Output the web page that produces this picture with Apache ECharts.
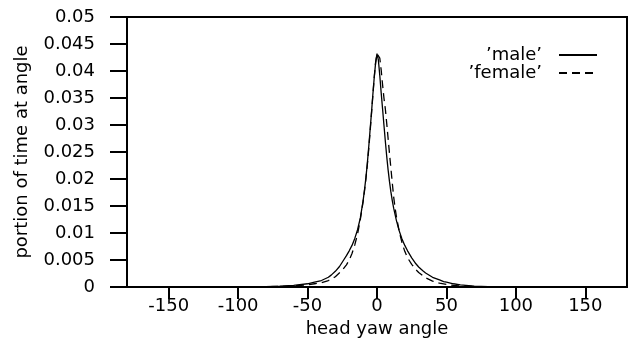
<!DOCTYPE html>
<html>
<head>
<meta charset="utf-8">
<script src="https://cdn.jsdelivr.net/npm/echarts@6/dist/echarts.min.js"></script>
<style>
html,body{margin:0;padding:0;background:#fff;}
#c{width:633px;height:343px;}
</style>
</head>
<body>
<div id="c"></div>
<script>
// x tick positions
var xTicks = [-150, -100, -50, 0, 50, 100, 150];

// 'male' (solid)
var maleX = [-180, -90, -80, -70, -60, -50, -45, -40, -35, -33, -30, -27, -24, -22, -20, -18, -16, -14, -12, -10, -9, -8, -7, -6, -5, -4, -3, -2, -1, 0, 1, 2, 3, 4, 5, 6, 7, 8, 9, 10, 11, 12, 14, 16, 18, 20, 22, 25, 28, 30, 33, 35, 40, 45, 48, 50, 55, 60, 70, 80, 90, 180];
var maleY = [0, 0, 0.00005, 0.00015, 0.0003, 0.0006, 0.0009, 0.0012, 0.0018, 0.0022, 0.0029, 0.0038, 0.0050, 0.0058, 0.0067, 0.0077, 0.0090, 0.0106, 0.0128, 0.0160, 0.0180, 0.0202, 0.0228, 0.0258, 0.0290, 0.0322, 0.0356, 0.0388, 0.0415, 0.0432, 0.0420, 0.0392, 0.0360, 0.0330, 0.0300, 0.0270, 0.0242, 0.0217, 0.0195, 0.0176, 0.0160, 0.0146, 0.0123, 0.0104, 0.0089, 0.0077, 0.0067, 0.0054, 0.0043, 0.0037, 0.0030, 0.0026, 0.0018, 0.0013, 0.0010, 0.0009, 0.0006, 0.0004, 0.00015, 0.00005, 0, 0];

// 'female' (dashed)
var femaleX = [-180, -90, -80, -70, -60, -50, -45, -40, -35, -30, -25, -22, -20, -18, -16, -14, -12, -10, -9, -8, -7, -6, -5, -4, -3, -2, -1, 0, 1, 2, 3, 4, 5, 6, 7, 8, 9, 10, 11, 12, 13, 14, 16, 18, 20, 22, 25, 28, 30, 35, 40, 45, 50, 55, 60, 70, 80, 90, 180];
var femaleY = [0, 0, 0.00003, 0.0001, 0.0002, 0.0004, 0.0006, 0.0008, 0.0012, 0.0019, 0.0031, 0.0041, 0.0050, 0.0062, 0.0078, 0.0098, 0.0125, 0.0158, 0.0178, 0.0200, 0.0225, 0.0254, 0.0286, 0.0320, 0.0354, 0.0388, 0.0416, 0.0432, 0.0435, 0.0424, 0.0402, 0.0375, 0.0350, 0.0330, 0.0303, 0.0275, 0.0247, 0.0220, 0.0193, 0.0167, 0.0147, 0.0130, 0.0103, 0.0082, 0.0066, 0.0054, 0.0042, 0.0032, 0.0027, 0.0017, 0.0011, 0.0007, 0.0005, 0.0003, 0.0002, 0.0001, 0.00003, 0, 0];

function pairs(xs, ys) { return xs.map(function (x, i) { return [x, ys[i]]; }); }

var FONT = 'DejaVu Sans';
var legendBase = {orient: 'vertical', align: 'right', right: 35, padding: 0,
  itemWidth: 38, itemHeight: 12, itemStyle: {opacity: 0, borderWidth: 0},
  textStyle: {fontFamily: FONT, fontSize: 18, color: '#000', padding: [0, 12, 0, 0]}};
var chart = echarts.init(document.getElementById('c'), null, {renderer: 'canvas'});
chart.setOption({
  animation: false,
  backgroundColor: '#fff',
  textStyle: {fontFamily: FONT, color: '#000'},
  grid: {left: 127, right: 6, top: 17, bottom: 56, show: true, borderColor: '#000', borderWidth: 2, backgroundColor: 'transparent'},
  legend: [
    Object.assign({}, legendBase, {data: ["’male’"], top: 46}),
    Object.assign({}, legendBase, {data: ["’female’"], top: 64})
  ],
  xAxis: {
    type: 'value', min: -180, max: 180,
    name: 'head yaw angle', nameLocation: 'middle', nameGap: 28,
    nameTextStyle: {fontFamily: FONT, fontSize: 18, color: '#000'},
    axisLine: {show: true, onZero: false, lineStyle: {color: '#000', width: 2}},
    axisTick: {show: true, inside: false, length: 12, customValues: xTicks, lineStyle: {color: '#000', width: 2}},
    axisLabel: {show: true, margin: 10, customValues: xTicks, fontFamily: FONT, fontSize: 18, color: '#000'},
    splitLine: {show: false}
  },
  yAxis: {
    type: 'value', min: 0, max: 0.05, interval: 0.005,
    name: 'portion of time at angle', nameLocation: 'middle', nameGap: 96,
    nameTextStyle: {fontFamily: FONT, fontSize: 18, color: '#000'},
    axisLine: {show: true, onZero: false, lineStyle: {color: '#000', width: 2}},
    axisTick: {show: true, inside: false, length: 17, lineStyle: {color: '#000', width: 2}},
    axisLabel: {show: true, margin: 32, fontFamily: FONT, fontSize: 18, color: '#000',
      formatter: function (v) { return String(Math.round(v * 1000) / 1000); }},
    splitLine: {show: false}
  },
  series: [
    {name: "’male’", type: 'line', data: pairs(maleX, maleY), symbol: 'none', smooth: false,
     lineStyle: {color: '#000', width: 1.3, type: 'solid'}, itemStyle: {color: '#000'}},
    {name: "’female’", type: 'line', data: pairs(femaleX, femaleY), symbol: 'none', smooth: false,
     lineStyle: {color: '#000', width: 1.3, type: [8, 5]}, itemStyle: {color: '#000'}}
  ]
});
</script>
</body>
</html>
